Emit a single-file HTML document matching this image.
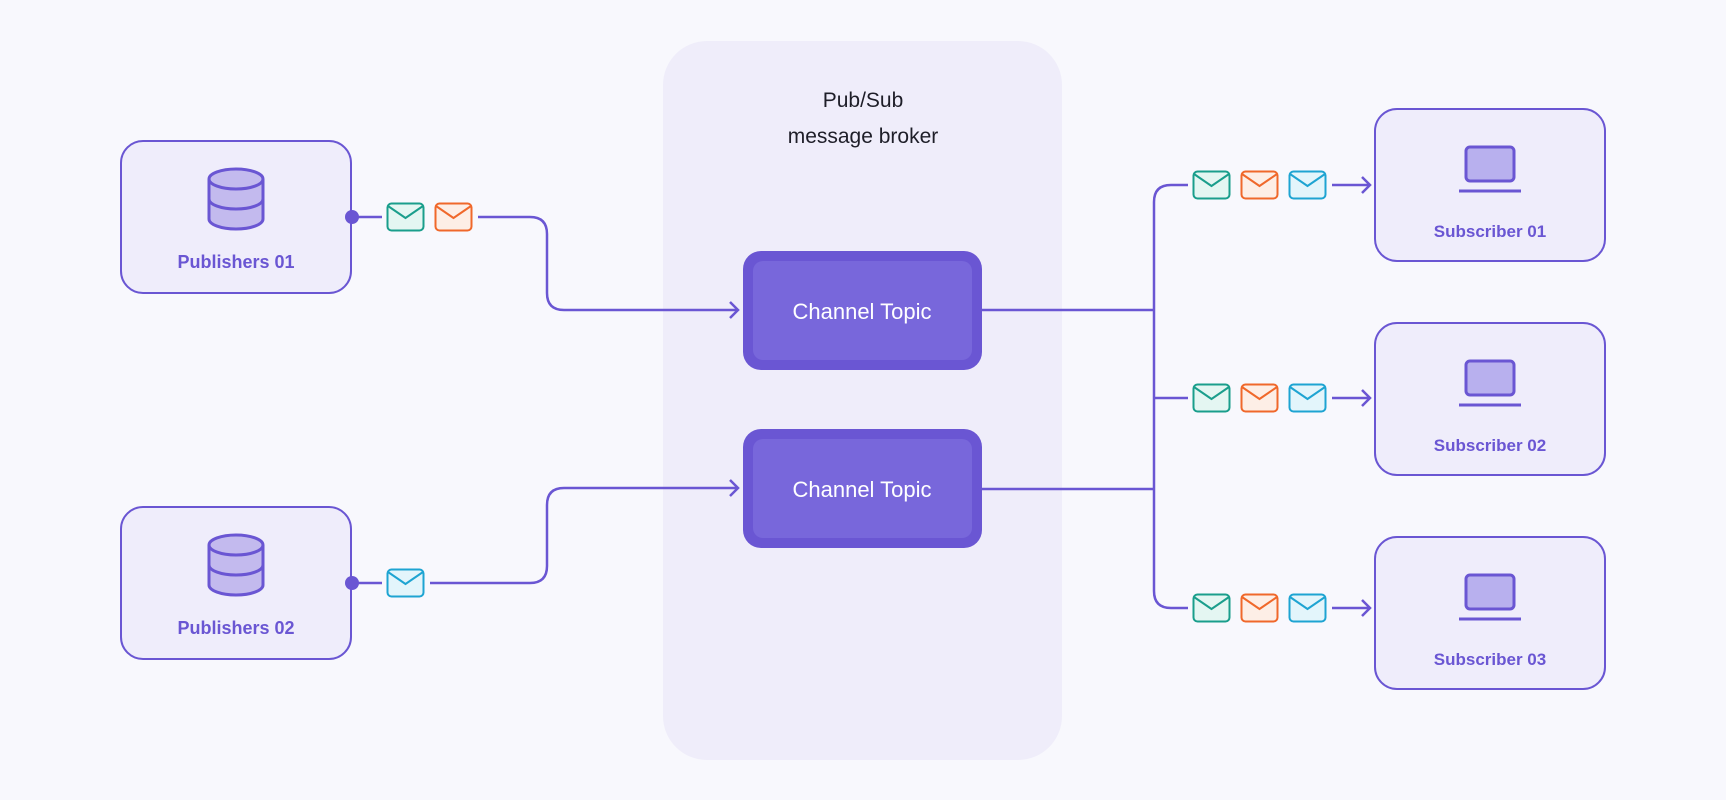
<!DOCTYPE html>
<html><head><meta charset="utf-8"><style>
html,body{margin:0;padding:0;background:#f8f8fd;}
svg{display:block;}
text{font-family:"Liberation Sans",sans-serif;}
</style></head><body>
<svg width="1726" height="800" viewBox="0 0 1726 800" xmlns="http://www.w3.org/2000/svg">
<defs>
<g id="env-t"><rect x="0.5" y="0.5" width="36" height="27" rx="4" fill="#e4f6f2" stroke="#1a9e8c" stroke-width="2"/><path d="M1 3 L18.5 15 L36 3" fill="none" stroke="#1a9e8c" stroke-width="2"/></g>
<g id="env-o"><rect x="0.5" y="0.5" width="36" height="27" rx="4" fill="#fdeee6" stroke="#f0682b" stroke-width="2"/><path d="M1 3 L18.5 15 L36 3" fill="none" stroke="#f0682b" stroke-width="2"/></g>
<g id="env-c"><rect x="0.5" y="0.5" width="36" height="27" rx="4" fill="#e3f5fb" stroke="#1ea4d2" stroke-width="2"/><path d="M1 3 L18.5 15 L36 3" fill="none" stroke="#1ea4d2" stroke-width="2"/></g>
<g id="db"><path d="M-27 -20 L-27 20 A27 10 0 0 0 27 20 L27 -20" fill="#c3baee" stroke="#6a56d3" stroke-width="3"/><ellipse cx="0" cy="-20" rx="27" ry="10" fill="#c3baee" stroke="#6a56d3" stroke-width="3"/><path d="M-27 0 A27 10 0 0 0 27 0" fill="none" stroke="#6a56d3" stroke-width="3"/></g>
<g id="lap"><rect x="-24" y="0" width="48" height="34" rx="4" fill="#b8b0ee" stroke="#6a56d3" stroke-width="3"/><line x1="-31" y1="44" x2="31" y2="44" stroke="#6a56d3" stroke-width="3"/></g>
</defs>
<rect width="1726" height="800" fill="#f8f8fd"/>
<rect x="663" y="41" width="399" height="719" rx="44" fill="#efedfa"/>
<text x="863" y="107" font-size="21" fill="#1e1e28" text-anchor="middle">Pub/Sub</text>
<text x="863" y="143" font-size="21" fill="#1e1e28" text-anchor="middle">message broker</text>

<rect x="121" y="141" width="230" height="152" rx="22" fill="#efedfb" stroke="#6a56d3" stroke-width="2"/>
<use href="#db" x="236" y="199"/>
<text x="236" y="268" font-size="18" font-weight="bold" fill="#6a56d3" text-anchor="middle">Publishers 01</text>
<rect x="121" y="507" width="230" height="152" rx="22" fill="#efedfb" stroke="#6a56d3" stroke-width="2"/>
<use href="#db" x="236" y="565"/>
<text x="236" y="634" font-size="18" font-weight="bold" fill="#6a56d3" text-anchor="middle">Publishers 02</text>

<g fill="none" stroke="#6a56d3" stroke-width="2.5">
<path d="M352 217 H382"/>
<path d="M478 217 H530 Q547 217 547 234 V293 Q547 310 564 310 H738"/>
<path d="M730 302 L738 310 L730 318"/>
<path d="M352 583 H382"/>
<path d="M430 583 H530 Q547 583 547 566 V505 Q547 488 564 488 H738"/>
<path d="M730 480 L738 488 L730 496"/>
<path d="M982 310 H1154"/>
<path d="M982 489 H1154"/>
<path d="M1188 185 H1171 Q1154 185 1154 202 V591 Q1154 608 1171 608 H1188"/>
<path d="M1154 398 H1188"/>
<path d="M1332 185 H1370 M1362 177 L1370 185 L1362 193"/>
<path d="M1332 398 H1370 M1362 390 L1370 398 L1362 406"/>
<path d="M1332 608 H1370 M1362 600 L1370 608 L1362 616"/>
</g>
<circle cx="352" cy="217" r="7" fill="#6a56d3"/>
<circle cx="352" cy="583" r="7" fill="#6a56d3"/>
<use href="#env-t" x="387" y="203"/>
<use href="#env-o" x="435" y="203"/>
<use href="#env-c" x="387" y="569"/>

<rect x="743" y="251" width="239" height="119" rx="18" fill="#6a56d3"/>
<rect x="753" y="261" width="219" height="99" rx="10" fill="#7867db"/>
<text x="862" y="319" font-size="22" fill="#fff" text-anchor="middle">Channel Topic</text>
<rect x="743" y="429" width="239" height="119" rx="18" fill="#6a56d3"/>
<rect x="753" y="439" width="219" height="99" rx="10" fill="#7867db"/>
<text x="862" y="497" font-size="22" fill="#fff" text-anchor="middle">Channel Topic</text>

<use href="#env-t" x="1193" y="171"/><use href="#env-o" x="1241" y="171"/><use href="#env-c" x="1289" y="171"/>
<use href="#env-t" x="1193" y="384"/><use href="#env-o" x="1241" y="384"/><use href="#env-c" x="1289" y="384"/>
<use href="#env-t" x="1193" y="594"/><use href="#env-o" x="1241" y="594"/><use href="#env-c" x="1289" y="594"/>

<rect x="1375" y="109" width="230" height="152" rx="22" fill="#efedfb" stroke="#6a56d3" stroke-width="2"/>
<use href="#lap" x="1490" y="147"/>
<text x="1490" y="237" font-size="17" font-weight="bold" fill="#6a56d3" text-anchor="middle">Subscriber 01</text>
<rect x="1375" y="323" width="230" height="152" rx="22" fill="#efedfb" stroke="#6a56d3" stroke-width="2"/>
<use href="#lap" x="1490" y="361"/>
<text x="1490" y="451" font-size="17" font-weight="bold" fill="#6a56d3" text-anchor="middle">Subscriber 02</text>
<rect x="1375" y="537" width="230" height="152" rx="22" fill="#efedfb" stroke="#6a56d3" stroke-width="2"/>
<use href="#lap" x="1490" y="575"/>
<text x="1490" y="665" font-size="17" font-weight="bold" fill="#6a56d3" text-anchor="middle">Subscriber 03</text>
</svg>
</body></html>
